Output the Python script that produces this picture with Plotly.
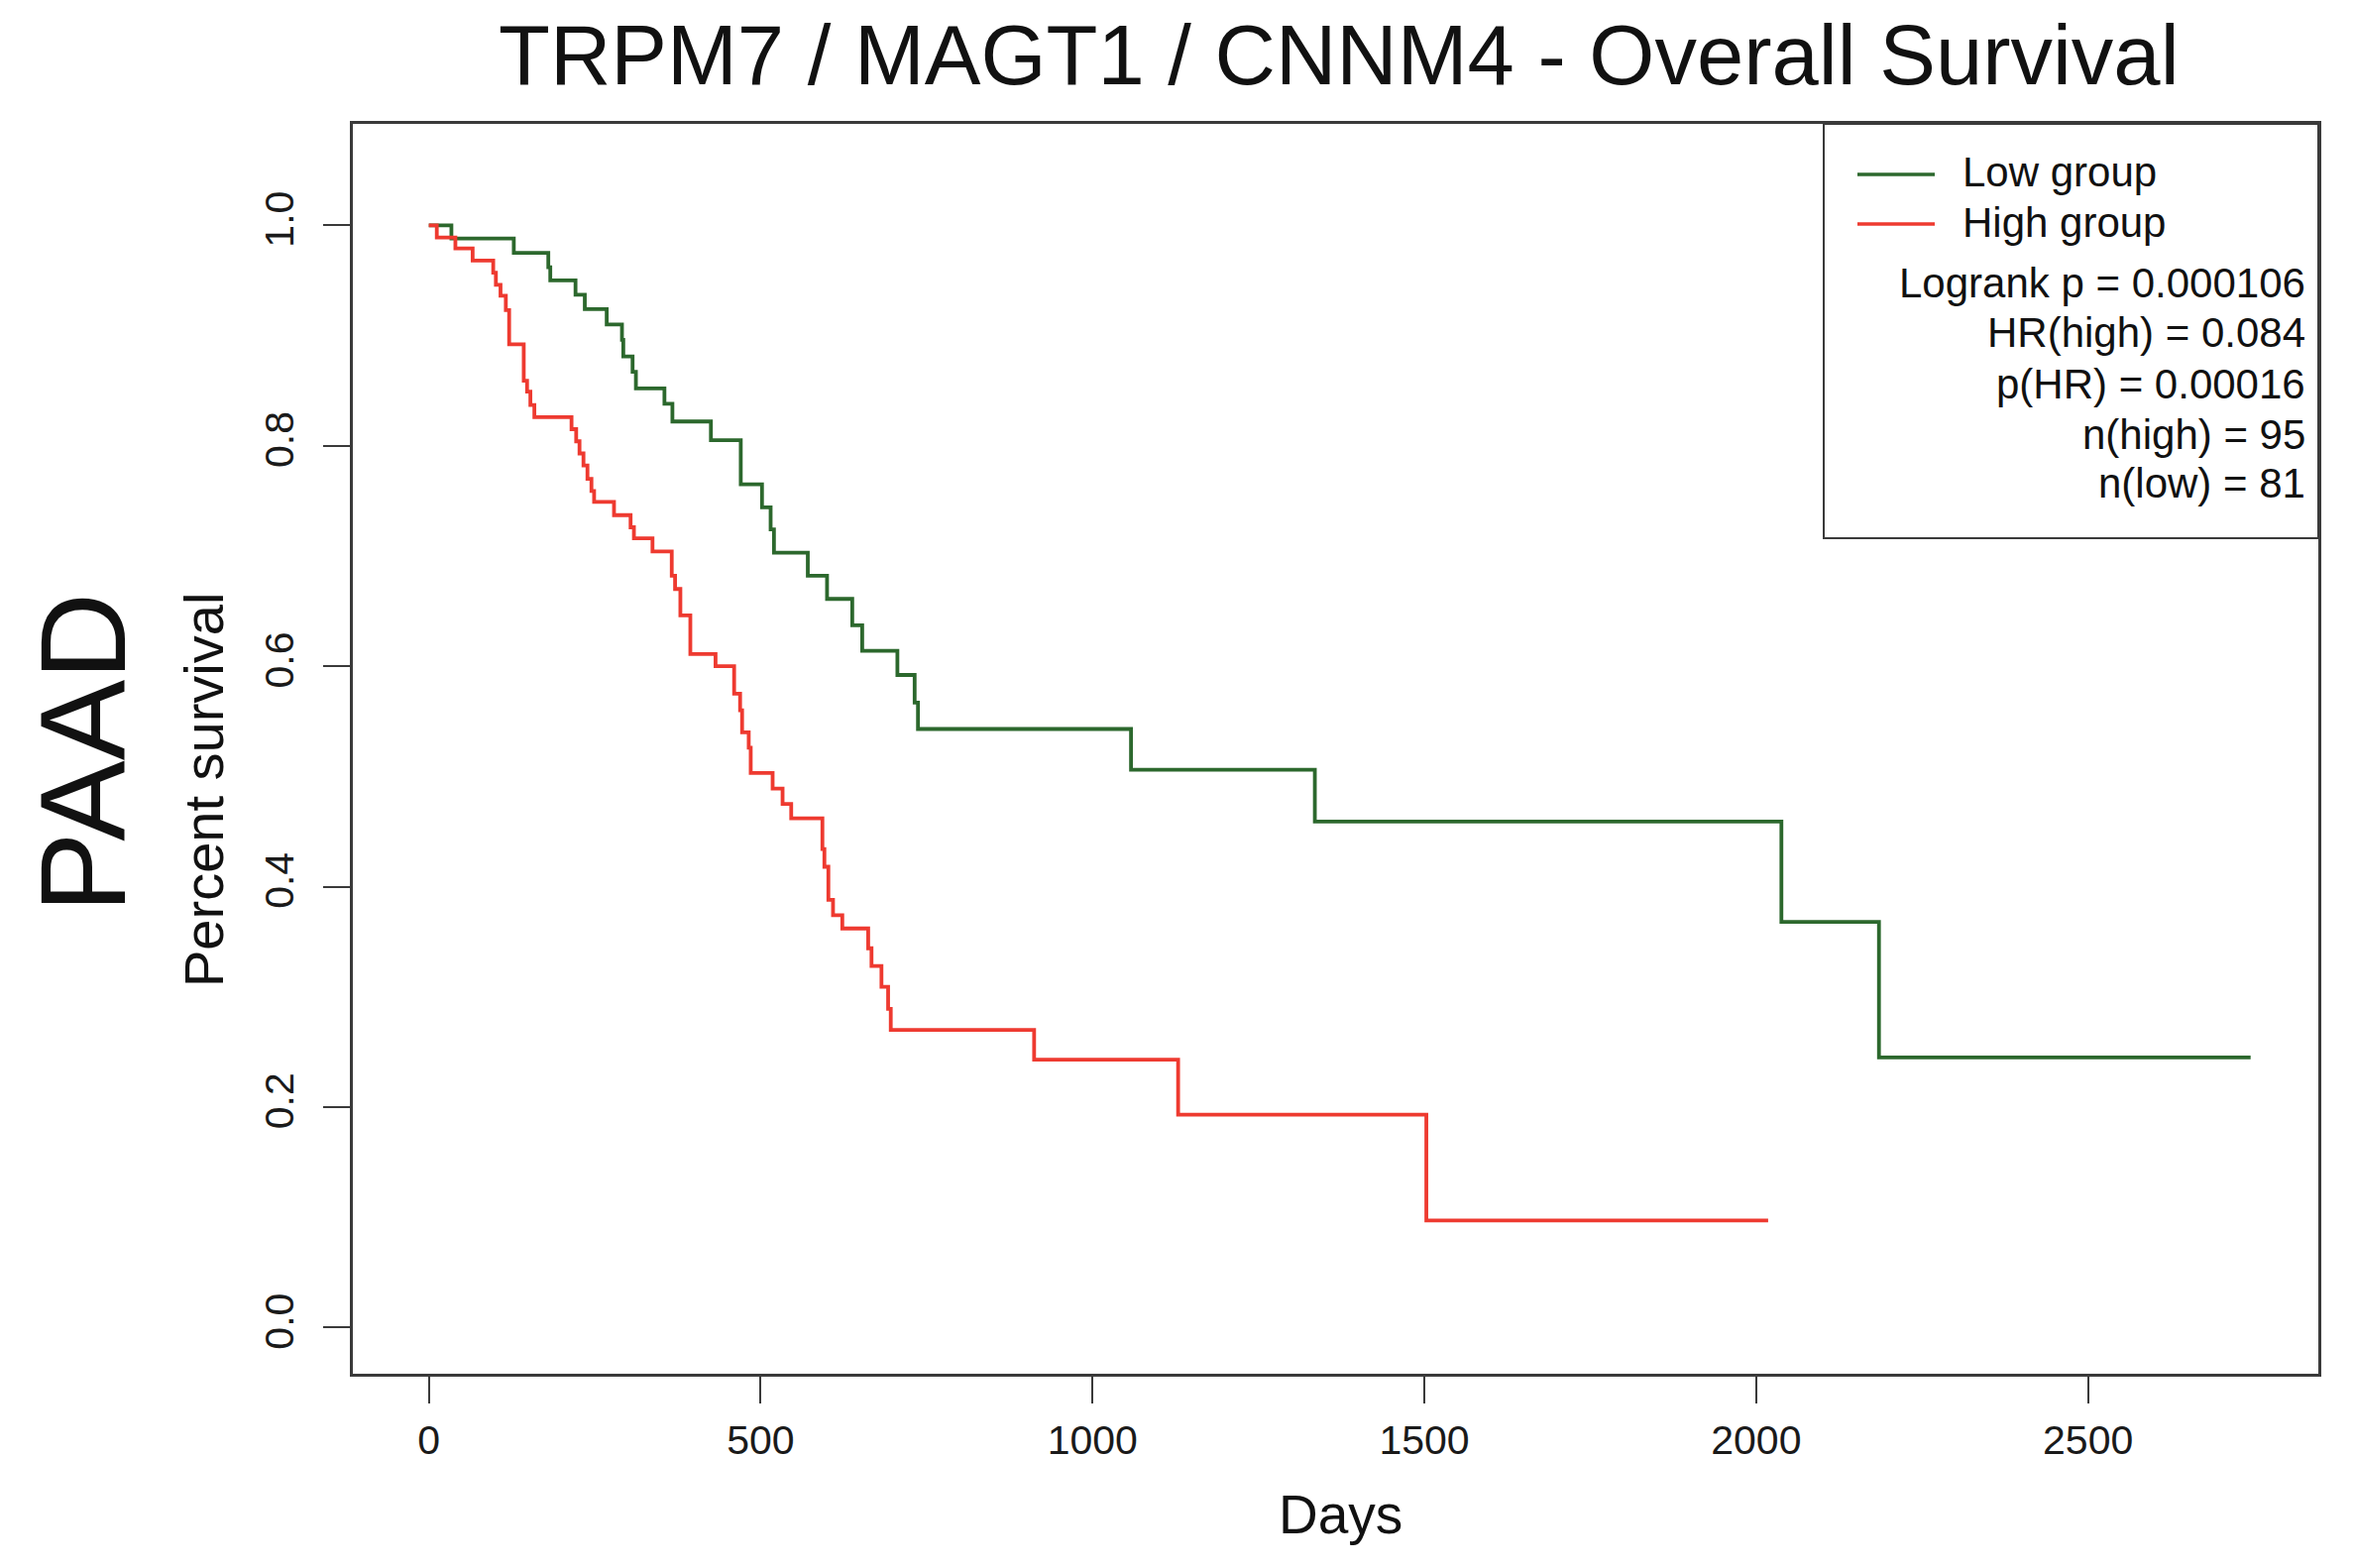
import plotly.graph_objects as go

# ---- data ----
low_days = [0, 34, 128, 180, 183, 221, 235, 268, 291, 293, 307, 312, 355, 367,
            425, 470, 502, 515, 520, 571, 600, 638, 653, 706, 732, 737, 1058,
            1335, 2038, 2185, 2745]
low_surv = [1.0, 0.988, 0.975, 0.962, 0.950, 0.937, 0.924, 0.910, 0.896, 0.881,
            0.867, 0.852, 0.838, 0.822, 0.805, 0.765, 0.744, 0.724, 0.703, 0.682,
            0.661, 0.637, 0.614, 0.592, 0.567, 0.543, 0.506, 0.459, 0.368, 0.245,
            0.245]

high_days = [0, 12, 40, 66, 97, 101, 108, 116, 121, 143, 148, 153, 159, 215,
             222, 227, 233, 239, 245, 249, 279, 304, 309, 337, 366, 371, 379,
             394, 432, 460, 469, 472, 482, 485, 518, 533, 546, 593, 596, 602,
             609, 623, 662, 667, 682, 692, 696, 912, 1129, 1503, 2018]
high_surv = [1.0, 0.989, 0.979, 0.968, 0.957, 0.946, 0.936, 0.923, 0.892, 0.859,
             0.849, 0.837, 0.826, 0.815, 0.804, 0.793, 0.782, 0.770, 0.759, 0.749,
             0.737, 0.726, 0.716, 0.704, 0.682, 0.670, 0.646, 0.611, 0.600, 0.575,
             0.560, 0.540, 0.526, 0.503, 0.489, 0.475, 0.462, 0.434, 0.418, 0.388,
             0.374, 0.362, 0.344, 0.328, 0.309, 0.289, 0.270, 0.243, 0.193, 0.097,
             0.097]

x_ticks = [0, 500, 1000, 1500, 2000, 2500]
y_ticks = [0.0, 0.2, 0.4, 0.6, 0.8, 1.0]

series_names = ["Low group", "High group"]
stats_lines = ["Logrank p = 0.000106", "HR(high) = 0.084", "p(HR) = 0.00016",
               "n(high) = 95", "n(low) = 81"]
title_text = "TRPM7 / MAGT1 / CNNM4 - Overall Survival"

GREEN = "#2C682D"
RED = "#EE3A30"
FONT = "Liberation Sans, Arial, sans-serif"

# page geometry (browser window) and the 8px default body margin
PAGE_W, PAGE_H = 2375, 1582
OFF = 8
PL, PR, PT, PB = 356, 2339, 125, 1386        # plot box in page pixels
PW, PH = PR - PL, PB - PT


def px(xp):
    return (xp - PL) / PW


def py(yp):
    return (PB - yp) / PH


fig = go.Figure()
fig.add_trace(go.Scatter(x=low_days, y=low_surv, mode="lines", line_shape="hv",
                         line=dict(color=GREEN, width=3.8), name=series_names[0],
                         showlegend=False))
fig.add_trace(go.Scatter(x=high_days, y=high_surv, mode="lines", line_shape="hv",
                         line=dict(color=RED, width=3.8), name=series_names[1],
                         showlegend=False))

axis_common = dict(showgrid=False, zeroline=False, showline=True, mirror=True,
                   linecolor="#3a3a3a", linewidth=2.5, ticks="outside", ticklen=27,
                   tickwidth=1.5, tickcolor="#3a3a3a",
                   tickfont=dict(family=FONT, size=41, color="#1a1a1a"))

fig.update_layout(
    width=PAGE_W - 2 * OFF, height=PAGE_H - 2 * OFF,
    margin=dict(l=PL - OFF, r=(PAGE_W - OFF) - PR, t=PT - OFF,
                b=(PAGE_H - OFF) - PB, pad=0),
    paper_bgcolor="white", plot_bgcolor="white",
    xaxis=dict(range=[-114.5, 2847], tickvals=x_ticks, ticklabelstandoff=2,
               **axis_common),
    yaxis=dict(range=[-0.042, 1.092], tickvals=y_ticks, tickformat=".1f",
               tickangle=-90, ticklabelstandoff=14, **axis_common),
)

ann = []
ann.append(dict(text=title_text, x=px(1351), y=py(56), xref="paper", yref="paper",
                showarrow=False, xanchor="center", yanchor="middle",
                font=dict(family=FONT, size=85, color="#111")))
ann.append(dict(text="Days", x=px(1352), y=py(1528), xref="paper", yref="paper",
                showarrow=False, xanchor="center", yanchor="middle",
                font=dict(family=FONT, size=55, color="#111")))
ann.append(dict(text="Percent survival", x=px(205), y=py(797), xref="paper",
                yref="paper", showarrow=False, xanchor="center", yanchor="middle",
                textangle=-90, font=dict(family=FONT, size=56, color="#111")))
ann.append(dict(text="PAAD", x=px(84), y=py(760), xref="paper", yref="paper",
                showarrow=False, xanchor="center", yanchor="middle",
                textangle=-90, font=dict(family=FONT, size=122, color="#111")))

# legend box
shapes = [dict(type="rect", xref="paper", yref="paper", x0=px(1840), x1=1.0,
               y0=py(543), y1=1.0, line=dict(color="#3a3a3a", width=2))]
for name, col, yy in zip(series_names, [GREEN, RED], [176, 226]):
    shapes.append(dict(type="line", xref="paper", yref="paper", x0=px(1874),
                       x1=px(1952), y0=py(yy), y1=py(yy),
                       line=dict(color=col, width=3.5)))
    ann.append(dict(text=name, x=px(1978), y=py(yy - 2), xref="paper", yref="paper",
                    showarrow=False, xanchor="left", yanchor="middle",
                    font=dict(family=FONT, size=42, color="#111")))
for txt, yy in zip(stats_lines, [285, 336, 387, 438, 487]):
    ann.append(dict(text=txt, x=px(2328), y=py(yy), xref="paper", yref="paper",
                    showarrow=False, xanchor="right", yanchor="middle",
                    font=dict(family=FONT, size=42, color="#111")))

fig.update_layout(annotations=ann, shapes=shapes)
fig.write_html("out.html")
